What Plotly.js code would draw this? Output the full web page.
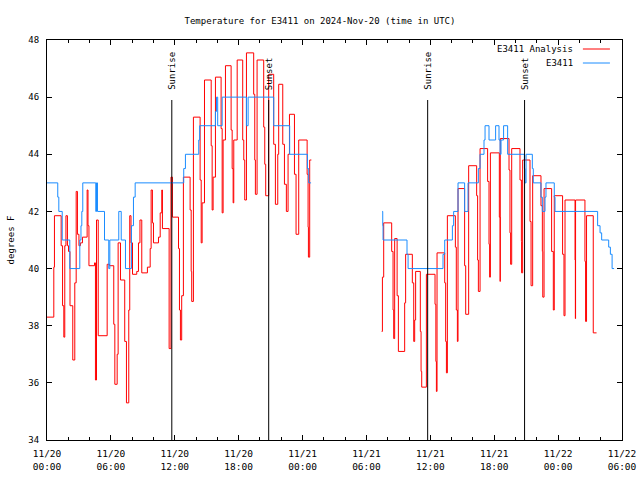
<!DOCTYPE html>
<html>
<head>
<meta charset="utf-8">
<script src="https://cdn.plot.ly/plotly-3.0.1.min.js"></script>
<style>html,body{margin:0;padding:0;background:#fff}#chart{width:640px;height:480px}</style>
</head>
<body>
<div id="chart"></div>
<script>
// Hours after 2024-11-20 00:00 UTC
var analysisHours = [0.00,0.64,0.70,1.33,1.46,1.58,1.67,1.78,1.92,2.02,2.16,2.42,2.61,2.74,2.86,3.00,3.14,3.33,3.77,3.85,3.94,4.46,4.55,4.65,4.81,5.65,5.87,6.27,6.37,6.59,6.68,6.90,7.30,7.46,7.68,7.77,7.89,8.03,8.43,8.59,8.73,8.90,9.43,9.69,9.78,9.90,10.00,10.47,10.63,10.78,10.84,11.47,11.64,11.78,12.35,12.44,12.53,12.65,12.81,13.44,13.54,13.59,13.75,14.38,14.48,14.57,14.79,15.42,15.51,15.60,15.82,16.35,16.45,16.54,16.76,17.29,17.39,17.48,17.54,17.86,18.38,18.48,18.57,18.73,19.41,19.51,19.57,19.73,20.35,20.45,20.54,20.82,21.29,21.45,21.67,21.76,22.14,22.30,22.48,22.64,22.77,23.24,23.39,23.64,24.43,24.52,24.55,24.67,24.83,
  null,
  31.43,31.50,31.62,32.37,32.50,32.56,32.65,32.88,33.00,33.59,33.68,34.31,34.44,34.53,34.62,35.06,35.13,35.19,35.63,36.44,36.52,36.57,36.63,37.35,37.44,37.51,37.60,38.35,38.44,38.54,38.60,39.22,39.32,39.60,40.35,40.44,40.51,40.67,41.38,41.51,41.57,41.64,42.48,42.55,42.57,43.39,43.48,43.54,43.64,44.42,44.55,44.57,44.67,45.36,45.46,45.61,46.39,46.52,46.56,46.68,47.39,47.55,47.64,48.42,48.55,48.65,49.59,49.62,49.64,50.52,50.58,50.67,51.30,51.61];
var analysisTemp = [38.3,40.05,41.85,40.8,38.7,37.6,40.8,41.85,40.8,40.6,38.7,36.8,39.5,42.7,41.2,40.8,40.9,41.1,42.75,41.5,40.1,40.2,36.1,41.7,37.65,40.15,40.1,38.05,35.95,37.0,40.9,39.6,37.45,35.3,38.55,41.85,40.9,39.8,39.9,40.9,41.7,39.85,40.05,40.7,42.75,41.6,40.9,41.1,41.95,42.75,41.4,37.2,43.2,41.8,40.7,38.55,37.5,39.05,43.2,42.05,39.9,38.85,45.3,43.1,40.9,42.3,46.6,44.3,42.05,43.2,46.7,44.9,41.95,44.5,47.1,44.85,43.5,42.3,44.5,47.3,44.5,43.8,42.4,47.55,46.1,43.8,42.6,47.3,44.95,43.65,42.55,46.8,44.35,42.25,44.0,46.45,44.35,42.95,42.0,44.0,45.4,43.3,41.2,44.5,43.3,41.45,40.4,43.8,43.8,
  null,
  37.8,39.7,41.6,40.6,38.55,37.55,41.05,39.05,37.1,38.8,40.5,39.5,37.45,38.2,39.9,37.8,36.4,35.85,39.8,38.75,36.75,35.7,40.55,39.5,37.45,36.35,41.85,40.75,38.55,37.45,42.8,40.1,38.4,43.6,42.55,40.3,39.2,44.2,43.05,40.85,39.7,44.05,41.8,39.55,44.55,43.45,41.25,40.15,44.2,43.1,40.95,39.85,43.8,41.65,39.4,43.25,42.2,40.6,39.0,42.8,40.6,38.55,42.55,40.5,38.35,42.4,40.3,38.25,42.4,40.25,38.15,41.85,37.75,37.75];

var obsHours = [0.00,1.01,1.11,1.43,2.14,3.08,3.19,3.27,3.36,4.58,4.65,4.74,5.40,5.80,5.90,6.74,6.97,7.37,7.93,8.12,8.28,12.84,13.00,14.25,14.34,15.82,15.92,16.03,16.45,18.73,18.89,21.29,22.79,24.46,24.58,24.80,
  null,
  31.47,31.53,31.56,33.81,33.91,37.19,37.35,38.07,38.19,38.60,39.22,39.54,40.51,40.67,41.04,41.14,41.51,42.13,42.45,42.55,42.64,42.88,43.26,44.83,44.89,44.99,45.58,45.67,46.39,46.52,46.77,46.86,47.64,47.71,51.71,51.94,52.09,52.75,52.91,53.07,53.26];
var obsTemp = [43,42.5,42,41,40,41,41.5,42,43,42,43,42,41,40,41,42,41,40,41.5,42.5,43,43.5,44,44.5,45,45.5,46,45,46,45,46,45,44,43.5,43,43,
  null,
  42,41.5,41,40.5,40,40.5,41,41.5,42,43,42,43,43.5,44,44.5,45,44.5,45,44.5,44,44.5,45,44,43.5,43,44,43.5,43,42.5,42,42.5,43,42.5,42,41.5,41.25,41,40.75,40.5,40,40];

var eventNames = ['Sunrise','Sunset','Sunrise','Sunset'];
var eventHours = [11.72, 20.82, 35.75, 44.85];

var tickHours = [0,6,12,18,24,30,36,42,48,54];
var seriesNames = ['E3411 Analysis','E3411'];
var seriesColors = ['#ff0000','#1a8cff'];

var BASE = Date.UTC(2024,10,20,0,0,0);
function toStr(h){
  if(h===null) return null;
  return new Date(BASE + Math.round(h*3600000)).toISOString().replace('T',' ').slice(0,19);
}
function tickLabel(h){
  var d = new Date(BASE + h*3600000);
  var p = function(n){return (n<10?'0':'')+n;};
  return p(d.getUTCMonth()+1)+'/'+p(d.getUTCDate())+'<br>'+p(d.getUTCHours())+':'+p(d.getUTCMinutes());
}

var FONT = 'DejaVu Sans Mono, monospace';

var traces = [
  {x: analysisHours.map(toStr), y: analysisTemp, type:'scatter', mode:'lines', name: seriesNames[0],
   line:{color:seriesColors[0], width:1, shape:'hv'}, connectgaps:false},
  {x: obsHours.map(toStr), y: obsTemp, type:'scatter', mode:'lines', name: seriesNames[1],
   line:{color:seriesColors[1], width:1, shape:'hv'}, connectgaps:false}
];

var shapes = [];
var annotations = [];
eventHours.forEach(function(h,i){
  shapes.push({type:'line', xref:'x', yref:'paper', x0:toStr(h), x1:toStr(h), y0:0, y1:0.85,
    line:{color:'#000', width:1}});
  annotations.push({text:eventNames[i], xref:'x', yref:'paper', x:toStr(h), y:0.87,
    xanchor:'center', yanchor:'bottom', textangle:-90, showarrow:false,
    font:{family:FONT, size:9, color:'#000'}});
});
// key (text right-justified, sample to the right, gnuplot style)
var keyY = [0.9775, 0.9425];
seriesNames.forEach(function(n,i){
  annotations.push({text:n, xref:'paper', yref:'paper', x:0.918, y:keyY[i], xanchor:'right', yanchor:'middle',
    showarrow:false, font:{family:FONT, size:9, color:'#000'}});
  shapes.push({type:'line', xref:'paper', yref:'paper', x0:0.932, x1:0.979, y0:keyY[i], y1:keyY[i],
    line:{color:seriesColors[i], width:1}});
});

var layout = {
  width:640, height:480, autosize:false,
  margin:{l:47, r:18, t:40, b:40, pad:0},
  paper_bgcolor:'#fff', plot_bgcolor:'#fff',
  font:{family:FONT, size:9, color:'#000'},
  showlegend:false,
  title:{text:'Temperature for E3411 on 2024-Nov-20 (time in UTC)', xref:'container', x:0.5, xanchor:'center',
    yref:'container', y:0.956, yanchor:'middle', font:{family:FONT, size:9, color:'#000'}},
  xaxis:{type:'date', range:[toStr(0), toStr(54)], tickmode:'array',
    tickvals: tickHours.map(toStr), ticktext: tickHours.map(tickLabel),
    ticks:'inside', ticklen:5, tickwidth:1, tickcolor:'#000', ticklabelstandoff:5,
    showline:true, linecolor:'#000', linewidth:1, mirror:'ticks',
    showgrid:false, zeroline:false, tickfont:{family:FONT, size:9.5, color:'#000'},
    minor:{tickmode:'linear', tick0:toStr(0), dtick:7200000, ticks:'inside', ticklen:3, tickcolor:'#000', showgrid:false}},
  yaxis:{range:[34,48], tickmode:'linear', tick0:34, dtick:2,
    ticks:'inside', ticklen:5, tickwidth:1, tickcolor:'#000', ticklabelstandoff:5,
    showline:true, linecolor:'#000', linewidth:1, mirror:'ticks',
    showgrid:false, zeroline:false, tickfont:{family:FONT, size:9, color:'#000'},
    title:{text:'degrees F', font:{family:FONT, size:9, color:'#000'}, standoff:12}},
  shapes: shapes,
  annotations: annotations
};

Plotly.newPlot('chart', traces, layout, {staticPlot:true, displayModeBar:false});
</script>
</body>
</html>
